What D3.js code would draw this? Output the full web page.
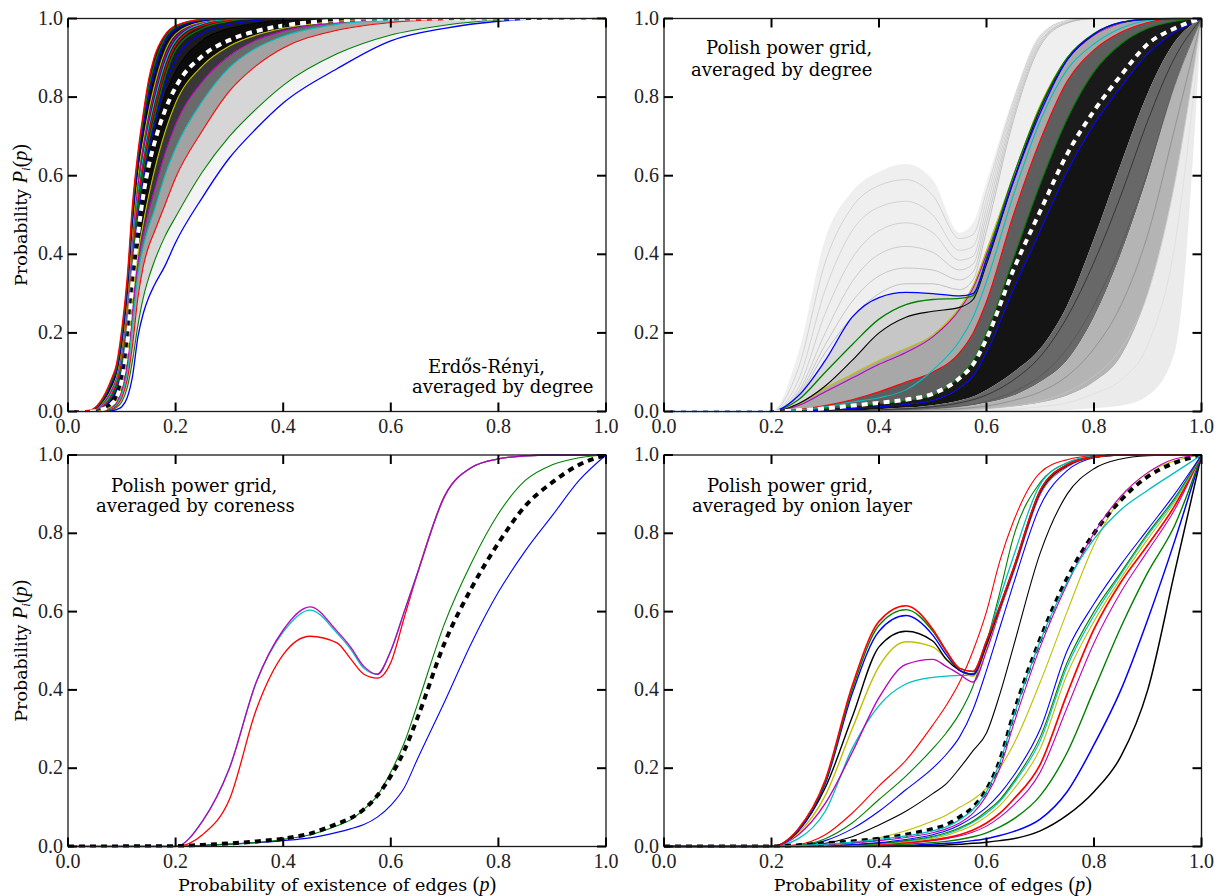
<!DOCTYPE html>
<html>
<head>
<meta charset="utf-8">
<script src="https://cdn.jsdelivr.net/npm/d3@7"></script>
<style>
  html, body { margin: 0; padding: 0; background: #fff; }
  svg { display: block; }
</style>
</head>
<body>
<svg id="fig" width="1222" height="896"></svg>
<script>
// ------------------------------------------------------------------
// Axis ticks shared by all four panels
// ------------------------------------------------------------------
const TICKS = [0, 0.2, 0.4, 0.6, 0.8, 1.0];
const TICK_LABELS = ["0.0", "0.2", "0.4", "0.6", "0.8", "1.0"];

// ------------------------------------------------------------------
// Panel 1: Erdős-Rényi, averaged by degree (k = 1 ... 17)
// ------------------------------------------------------------------
const ER_P = [0, .04, .06, .08, .09, .10, .11, .12, .13, .14, .15, .16, .18, .20, .25, .30, .35, .40, .50, .60, .70, .80, .90, 1.0];
const ER_K1  = [0, 0, 0, .002, .005, .012, .035, .09, .19, .25, .29, .32, .37, .43, .545, .645, .72, .785, .872, .943, .975, .993, .999, 1];
const ER_K2  = [0, 0, .001, .004, .01, .025, .06, .13, .22, .29, .34, .38, .445, .495, .61, .70, .77, .83, .91, .958, .983, .996, 1, 1];
const ER_K3  = [0, 0, .002, .006, .014, .035, .08, .17, .29, .37, .42, .455, .525, .595, .715, .815, .88, .925, .97, .99, .997, 1, 1, 1];
const ER_K4  = [0, 0, .002, .008, .018, .045, .10, .22, .35, .42, .47, .51, .60, .67, .79, .875, .925, .955, .985, .996, 1, 1, 1, 1];
const ER_K5  = [0, 0, .002, .01, .022, .055, .12, .26, .38, .45, .51, .56, .655, .73, .84, .905, .945, .968, .99, 1, 1, 1, 1, 1];
const ER_K6  = [0, 0, .003, .012, .026, .065, .14, .29, .40, .48, .55, .61, .71, .785, .88, .93, .958, .975, .993, 1, 1, 1, 1, 1];
const ER_K7  = [0, .001, .006, .028, .05, .10, .195, .35, .475, .57, .645, .705, .805, .865, .945, .975, .988, .996, 1, 1, 1, 1, 1, 1];
const ER_K8  = [0, .001, .007, .032, .056, .11, .21, .37, .495, .59, .665, .725, .83, .895, .962, .985, .995, 1, 1, 1, 1, 1, 1, 1];
const ER_K9  = [0, .001, .008, .036, .063, .12, .225, .39, .515, .61, .685, .745, .85, .92, .975, .993, 1, 1, 1, 1, 1, 1, 1, 1];
const ER_K10 = [0, .002, .01, .042, .072, .135, .24, .41, .54, .63, .705, .765, .868, .933, .982, .996, 1, 1, 1, 1, 1, 1, 1, 1];
const ER_K11 = [0, .002, .012, .046, .08, .145, .255, .43, .56, .65, .725, .785, .885, .943, .987, .998, 1, 1, 1, 1, 1, 1, 1, 1];
const ER_K12 = [0, .002, .014, .052, .086, .155, .27, .445, .58, .67, .745, .805, .90, .952, .99, 1, 1, 1, 1, 1, 1, 1, 1, 1];
const ER_K13 = [0, .002, .016, .057, .092, .165, .285, .465, .60, .69, .765, .825, .915, .96, .992, 1, 1, 1, 1, 1, 1, 1, 1, 1];
const ER_K14 = [0, .002, .018, .062, .098, .175, .30, .485, .62, .71, .785, .845, .93, .967, .994, 1, 1, 1, 1, 1, 1, 1, 1, 1];
const ER_K15 = [0, .002, .02, .068, .104, .185, .315, .50, .635, .725, .805, .86, .94, .972, .995, 1, 1, 1, 1, 1, 1, 1, 1, 1];
const ER_K16 = [0, .003, .022, .074, .11, .195, .33, .515, .65, .745, .825, .88, .95, .978, .997, 1, 1, 1, 1, 1, 1, 1, 1, 1];
const ER_K17 = [0, .003, .025, .08, .12, .21, .34, .53, .66, .76, .845, .90, .958, .982, .998, 1, 1, 1, 1, 1, 1, 1, 1, 1];
const ER_MEAN = [0, 0, .004, .018, .035, .08, .17, .33, .45, .55, .625, .68, .765, .825, .905, .945, .968, .982, .995, 1, 1, 1, 1, 1];

// ------------------------------------------------------------------
// Panel 2: Polish power grid, averaged by degree
// ------------------------------------------------------------------
const PG_P = [0, .15, .2, .25, .3, .35, .4, .45, .5, .55, .575, .6, .65, .7, .75, .8, .85, .9, .95, 1];
const PG_HUMP_BLUE  = [0, 0, 0, .04, .13, .24, .29, .303, .30, .294, .30, .385, .585, .76, .895, .96, .99, .998, 1, 1];
const PG_HUMP_GREEN = [0, 0, 0, .03, .10, .17, .235, .272, .285, .288, .295, .39, .60, .775, .90, .962, .99, .998, 1, 1];
const PG_HUMP_BLACK = [0, 0, 0, .02, .065, .13, .2, .24, .255, .265, .285, .375, .585, .77, .895, .96, .99, .998, 1, 1];
const PG_YELLOW  = [0, 0, 0, .02, .06, .095, .13, .16, .195, .265, .32, .41, .6, .78, .9, .96, .99, 1, 1, 1];
const PG_MAGENTA = [0, 0, 0, .015, .05, .085, .12, .15, .19, .26, .315, .40, .59, .77, .895, .958, .988, 1, 1, 1];
const PG_CYAN    = [0, 0, 0, .004, .012, .024, .035, .055, .105, .18, .24, .33, .55, .74, .87, .935, .975, .995, 1, 1];
const PG_RED     = [0, 0, 0, .005, .015, .03, .05, .075, .1, .15, .2, .28, .5, .69, .84, .92, .965, .99, 1, 1];
const PG_GREEN2  = [0, 0, 0, .003, .008, .014, .02, .028, .042, .09, .13, .20, .39, .58, .745, .865, .935, .975, .993, 1];
const PG_BLUE2   = [0, 0, 0, .001, .004, .008, .012, .018, .028, .06, .09, .15, .31, .46, .61, .73, .825, .91, .965, 1];
const PG_MEAN    = [0, 0, 0, .003, .008, .015, .022, .03, .045, .085, .12, .185, .36, .51, .655, .765, .855, .935, .975, 1];
// envelopes of the individual-node curves drawn behind the averages
const PG_NODE_TOP  = [0, 0, 0, .15, .44, .56, .61, .63, .59, .455, .48, .585, .80, .96, .995, 1, 1, 1, 1, 1];
const PG_NODE_MID1 = [0, 0, 0, 0, .001, .003, .006, .01, .016, .028, .038, .055, .1, .16, .27, .44, .63, .81, .94, 1];
const PG_NODE_MID2 = [0, 0, 0, 0, 0, .001, .002, .004, .007, .012, .016, .022, .04, .075, .13, .24, .4, .6, .83, 1];
const PG_NODE_MID3 = [0, 0, 0, 0, 0, 0, 0, .001, .002, .003, .004, .006, .012, .022, .04, .075, .14, .3, .58, 1];
const PG_NODE_LOW  = [0, 0, 0, 0, 0, 0, 0, 0, 0, 0, 0, 0, .001, .002, .004, .008, .015, .04, .15, 1];
// a few individual-node curves: double-hump family
const PG_NODE_H1 = [0, 0, 0, .11, .38, .52, .575, .59, .55, .44, .45, .56, .79, .955, .995, 1, 1, 1, 1, 1];
const PG_NODE_H2 = [0, 0, 0, .08, .31, .46, .52, .535, .5, .41, .42, .54, .78, .95, .993, 1, 1, 1, 1, 1];
const PG_NODE_H3 = [0, 0, 0, .06, .25, .39, .46, .48, .455, .385, .395, .52, .77, .945, .99, 1, 1, 1, 1, 1];
const PG_NODE_H4 = [0, 0, 0, .05, .2, .33, .4, .42, .405, .36, .375, .5, .76, .94, .99, 1, 1, 1, 1, 1];
const PG_NODE_H5 = [0, 0, 0, .045, .17, .28, .345, .365, .36, .335, .355, .48, .75, .935, .99, 1, 1, 1, 1, 1];
const PG_NODE_H6 = [0, 0, 0, .04, .15, .24, .3, .325, .325, .31, .335, .46, .74, .93, .988, 1, 1, 1, 1, 1];
// a few individual-node curves: late-connecting fan
const PG_NODE_F1 = [0, 0, 0, 0, .001, .002, .004, .007, .012, .022, .03, .042, .08, .14, .24, .38, .55, .74, .9, 1];
const PG_NODE_F2 = [0, 0, 0, 0, 0, .001, .002, .004, .007, .013, .018, .026, .05, .09, .16, .27, .42, .61, .83, 1];
const PG_NODE_F3 = [0, 0, 0, 0, 0, 0, .001, .002, .004, .007, .01, .014, .028, .05, .09, .16, .27, .45, .72, 1];
const PG_NODE_F4 = [0, 0, 0, 0, 0, 0, 0, .001, .002, .003, .005, .007, .014, .026, .05, .09, .16, .3, .58, 1];
const PG_NODE_F5 = [0, 0, 0, 0, 0, 0, 0, 0, .001, .001, .002, .003, .006, .012, .022, .045, .08, .17, .42, 1];

// ------------------------------------------------------------------
// Panel 3: Polish power grid, averaged by coreness
// ------------------------------------------------------------------
const CO_P = [0, .2, .25, .3, .35, .4, .45, .5, .525, .55, .575, .6, .625, .65, .7, .75, .8, .85, .9, .95, 1];
const CO_BLUE    = [0, 0, .003, .006, .01, .015, .022, .036, .045, .056, .075, .105, .15, .225, .37, .52, .65, .755, .845, .935, 1];
const CO_GREEN   = [0, 0, .003, .006, .01, .018, .03, .053, .068, .095, .13, .19, .265, .365, .57, .725, .85, .935, .975, .993, 1];
const CO_RED     = [0, 0, .03, .12, .35, .49, .537, .52, .48, .44, .43, .47, .585, .70, .895, .968, .99, .998, 1, 1, 1];
const CO_CYAN    = [0, 0, .065, .2, .42, .548, .604, .545, .505, .455, .44, .50, .60, .70, .895, .968, .99, .998, 1, 1, 1];
const CO_MAGENTA = [0, 0, .065, .2, .42, .553, .612, .55, .51, .46, .44, .50, .60, .70, .895, .968, .99, .998, 1, 1, 1];
const CO_MEAN    = [0, .001, .004, .008, .013, .02, .033, .058, .072, .095, .13, .18, .245, .33, .52, .66, .775, .87, .93, .975, 1];

// ------------------------------------------------------------------
// Panel 4: Polish power grid, averaged by onion layer
// ------------------------------------------------------------------
const ON_P = [0, .2, .25, .3, .35, .4, .45, .5, .525, .55, .575, .6, .625, .65, .7, .75, .8, .85, .9, .95, 1];
// outer layers: double hump
const ON_H_RED     = [0, 0, .045, .17, .41, .575, .615, .555, .5, .455, .447, .525, .615, .71, .91, .975, .995, 1, 1, 1, 1];
const ON_H_GREEN   = [0, 0, .045, .165, .40, .565, .605, .55, .498, .455, .447, .525, .615, .71, .91, .975, .995, 1, 1, 1, 1];
const ON_H_BLUE    = [0, 0, .04, .16, .39, .55, .59, .54, .49, .45, .44, .52, .612, .708, .908, .975, .995, 1, 1, 1, 1];
const ON_H_BLACK   = [0, 0, .04, .15, .33, .51, .55, .525, .478, .45, .44, .515, .61, .705, .905, .973, .995, 1, 1, 1, 1];
const ON_H_YELLOW  = [0, 0, .035, .13, .30, .46, .523, .51, .48, .45, .435, .51, .607, .703, .903, .972, .995, 1, 1, 1, 1];
const ON_H_MAGENTA = [0, 0, .03, .11, .24, .38, .465, .478, .46, .44, .42, .50, .603, .70, .90, .97, .995, 1, 1, 1, 1];
const ON_H_CYAN    = [0, 0, .02, .09, .25, .36, .415, .432, .435, .437, .437, .52, .635, .74, .925, .98, .997, 1, 1, 1, 1];
// intermediate layers
const ON_M_RED    = [0, 0, .005, .03, .085, .155, .22, .31, .36, .42, .5, .6, .73, .83, .955, .988, .998, 1, 1, 1, 1];
const ON_M_GREEN  = [0, 0, .003, .02, .06, .12, .18, .25, .29, .34, .41, .52, .65, .79, .93, .98, .997, 1, 1, 1, 1];
const ON_M_BLUE   = [0, 0, .002, .015, .045, .09, .145, .2, .235, .28, .35, .45, .56, .67, .87, .96, .993, 1, 1, 1, 1];
const ON_M_BLACK  = [0, 0, 0, .008, .025, .055, .09, .135, .16, .2, .245, .29, .39, .51, .75, .9, .965, .99, .998, 1, 1];
const ON_M_YELLOW = [0, 0, 0, .003, .01, .022, .04, .065, .08, .1, .12, .15, .2, .26, .42, .6, .77, .89, .955, .985, 1];
// layers close to the mean
const ON_MEAN      = [0, 0, .003, .008, .013, .02, .03, .045, .055, .075, .1, .145, .22, .337, .53, .685, .8, .885, .945, .98, 1];
const ON_C_CYAN    = [0, 0, .002, .006, .011, .018, .027, .04, .05, .068, .095, .14, .215, .33, .525, .675, .785, .86, .91, .955, 1];
const ON_C_MAGENTA = [0, 0, .002, .005, .009, .015, .023, .035, .045, .06, .085, .13, .2, .31, .51, .67, .8, .895, .955, .99, 1];
// inner layers
const ON_L_BLUE    = [0, 0, 0, .002, .005, .01, .018, .03, .04, .055, .075, .1, .135, .18, .3, .5, .62, .72, .81, .9, 1];
const ON_L_GREEN   = [0, 0, 0, .002, .004, .008, .015, .026, .035, .048, .065, .09, .12, .165, .28, .47, .6, .7, .8, .89, 1];
const ON_L_CYAN    = [0, 0, 0, .001, .004, .008, .014, .024, .032, .045, .062, .085, .115, .16, .27, .46, .59, .695, .795, .885, 1];
const ON_L_YELLOW  = [0, 0, 0, .001, .003, .007, .012, .021, .028, .04, .055, .077, .105, .145, .25, .44, .575, .685, .785, .88, 1];
const ON_L_RED     = [0, 0, 0, .001, .003, .006, .01, .017, .022, .03, .042, .06, .085, .12, .21, .39, .555, .675, .77, .87, 1];
const ON_L_MAGENTA = [0, 0, 0, .001, .002, .005, .009, .015, .02, .027, .037, .052, .075, .105, .19, .355, .52, .65, .755, .86, 1];
const ON_L_GREEN2  = [0, 0, 0, 0, .001, .003, .006, .01, .013, .018, .025, .035, .05, .07, .13, .24, .4, .56, .7, .82, 1];
const ON_L_BLUE2   = [0, 0, 0, 0, 0, .001, .003, .006, .008, .011, .015, .02, .028, .038, .07, .14, .26, .4, .58, .78, 1];
const ON_L_BLACK   = [0, 0, 0, 0, 0, 0, .001, .003, .004, .006, .008, .011, .015, .02, .04, .08, .14, .23, .4, .7, 1];

// ------------------------------------------------------------------
// Styling
// ------------------------------------------------------------------
const C = { b: "#0000ff", g: "#008000", r: "#ff0000", c: "#00bfbf", m: "#bf00bf", y: "#bfbf00", k: "#000000" };
const SERIF = "'DejaVu Serif', serif";
const MATH = "'Liberation Serif', 'Times New Roman', serif";

const svg = d3.select("#fig");
svg.append("rect").attr("width", 1222).attr("height", 896).attr("fill", "#fff");

const panels = [
  {
    box: { left: 68, right: 606, top: 18.5, bottom: 411.5 },
    grid: ER_P,
    bands: [
      [ER_K17, ER_K7, "#1c1c1c"], [ER_K7, ER_K6, "#0c0c0c"], [ER_K6, ER_K5, "#383838"],
      [ER_K5, ER_K4, "#6a6a6a"], [ER_K4, ER_K3, "#a2a2a2"], [ER_K3, ER_K2, "#d6d6d6"],
      [ER_K2, ER_K1, "#f4f4f4"]
    ],
    nodes: [],
    lines: [
      [ER_K1, "b", 1.3], [ER_K2, "g"], [ER_K3, "r"], [ER_K4, "c"], [ER_K5, "m"], [ER_K6, "y"],
      [ER_K7, "k"], [ER_K8, "b"], [ER_K9, "g"], [ER_K10, "r"], [ER_K11, "c"], [ER_K12, "m"],
      [ER_K13, "y"], [ER_K14, "k"], [ER_K15, "b"], [ER_K16, "g"], [ER_K17, "r", 1.3]
    ],
    mean: ER_MEAN, meanColor: "#ffffff",
    notes: [["Erdős-Rényi,", 428, 372.5], ["averaged by degree", 412, 393]],
    yLabel: true, xLabel: false
  },
  {
    box: { left: 664, right: 1201.5, top: 18.5, bottom: 411.5 },
    grid: PG_P,
    bands: [
      [PG_NODE_TOP, PG_HUMP_BLUE, "#efefef"], [PG_HUMP_BLUE, PG_HUMP_BLACK, "#d9d9d9"],
      [PG_HUMP_BLACK, PG_YELLOW, "#c6c6c6"], [PG_YELLOW, PG_RED, "#a8a8a8"],
      [PG_RED, PG_GREEN2, "#5e5e5e"], [PG_GREEN2, PG_BLUE2, "#1a1a1a"],
      [PG_BLUE2, PG_NODE_MID1, "#141414"], [PG_NODE_MID1, PG_NODE_MID2, "#686868"],
      [PG_NODE_MID2, PG_NODE_MID3, "#b4b4b4"], [PG_NODE_MID3, PG_NODE_LOW, "#ebebeb"]
    ],
    nodes: [
      [PG_NODE_H1, "#d2d2d2", 1], [PG_NODE_H2, "#d2d2d2", 1], [PG_NODE_H3, "#cfcfcf", 1],
      [PG_NODE_H4, "#cbcbcb", 1], [PG_NODE_H5, "#c6c6c6", 1], [PG_NODE_H6, "#c0c0c0", 1],
      [PG_NODE_F1, "#2a2a2a", 0.8], [PG_NODE_F2, "#555555", 0.8], [PG_NODE_F3, "#8a8a8a", 0.8],
      [PG_NODE_F4, "#c4c4c4", 0.8], [PG_NODE_F5, "#dddddd", 0.8]
    ],
    lines: [
      [PG_BLUE2, "b"], [PG_GREEN2, "g"], [PG_RED, "r"], [PG_CYAN, "c"], [PG_MAGENTA, "m"],
      [PG_YELLOW, "y"], [PG_HUMP_BLACK, "k"], [PG_HUMP_GREEN, "g", 1.3], [PG_HUMP_BLUE, "b", 1.3]
    ],
    mean: PG_MEAN, meanColor: "#ffffff",
    notes: [["Polish power grid,", 706, 54], ["averaged by degree", 691, 76]],
    yLabel: false, xLabel: false
  },
  {
    box: { left: 68, right: 606, top: 455, bottom: 846.5 },
    grid: CO_P,
    bands: [],
    nodes: [],
    lines: [
      [CO_BLUE, "b"], [CO_GREEN, "g"], [CO_RED, "r", 1.3], [CO_CYAN, "c", 1.3], [CO_MAGENTA, "m", 1.3]
    ],
    mean: CO_MEAN, meanColor: "#000000",
    notes: [["Polish power grid,", 111, 491.5], ["averaged by coreness", 96, 511.5]],
    yLabel: true, xLabel: true
  },
  {
    box: { left: 664, right: 1201.5, top: 455, bottom: 846.5 },
    grid: ON_P,
    bands: [],
    nodes: [],
    lines: [
      [ON_L_BLACK, "k", 1.5], [ON_L_BLUE2, "b", 1.5], [ON_L_GREEN2, "g", 1.4], [ON_L_MAGENTA, "m"],
      [ON_L_RED, "r", 1.7], [ON_L_YELLOW, "y"], [ON_L_CYAN, "c"], [ON_L_GREEN, "g"], [ON_L_BLUE, "b"],
      [ON_M_YELLOW, "y"], [ON_M_BLACK, "k"], [ON_M_BLUE, "b"], [ON_M_GREEN, "g"], [ON_M_RED, "r"],
      [ON_H_CYAN, "c", 1.3], [ON_H_MAGENTA, "m", 1.4], [ON_H_YELLOW, "y", 1.4], [ON_H_BLACK, "k", 1.4],
      [ON_H_BLUE, "b", 1.4], [ON_H_GREEN, "g", 1.4], [ON_H_RED, "r", 1.6]
    ],
    mean: ON_MEAN, meanColor: "#000000",
    after: [[ON_C_MAGENTA, "m"], [ON_C_CYAN, "c", 1.3]],
    notes: [["Polish power grid,", 707, 491.5], ["averaged by onion layer", 692, 511.5]],
    yLabel: false, xLabel: true
  }
];

panels.forEach((pn, idx) => {
  const b = pn.box;
  const x = d3.scaleLinear().domain([0, 1]).range([b.left, b.right]);
  const y = d3.scaleLinear().domain([0, 1]).range([b.bottom, b.top]);
  const g = svg.append("g");

  const clipId = "clip" + idx;
  svg.append("clipPath").attr("id", clipId).append("rect")
    .attr("x", b.left).attr("y", b.top - 1)
    .attr("width", b.right - b.left).attr("height", b.bottom - b.top + 2);
  const plot = g.append("g").attr("clip-path", `url(#${clipId})`);

  const P = pn.grid;
  const lineGen = vals => d3.line()
    .x((d, i) => x(P[i])).y(d => y(d))
    .curve(d3.curveMonotoneX)(vals);
  const stroke = (vals, col, w) => plot.append("path").attr("d", lineGen(vals))
    .attr("fill", "none").attr("stroke", col).attr("stroke-width", w);

  // density of the individual-node curves, as filled bands between curves
  pn.bands.forEach(([hi, lo, col]) => {
    const area = d3.area()
      .x((d, i) => x(P[i]))
      .y0((d, i) => y(lo[i]))
      .y1((d, i) => y(hi[i]))
      .curve(d3.curveMonotoneX);
    plot.append("path").attr("d", area(hi)).attr("fill", col).attr("stroke", "none");
  });

  pn.nodes.forEach(([vals, col, w]) => stroke(vals, col, w));

  pn.lines.forEach(([vals, c, w]) => stroke(vals, C[c], w || 1.1));

  // mean curve, thick dashed
  plot.append("path").attr("d", lineGen(pn.mean))
    .attr("fill", "none").attr("stroke", pn.meanColor)
    .attr("stroke-width", 4).attr("stroke-dasharray", "6,5");

  (pn.after || []).forEach(([vals, c, w]) => stroke(vals, C[c], w || 1.1));

  // frame
  g.append("rect").attr("x", b.left).attr("y", b.top)
    .attr("width", b.right - b.left).attr("height", b.bottom - b.top)
    .attr("fill", "none").attr("stroke", "#1a1a1a").attr("stroke-width", 1.3);

  // inward ticks on all four sides
  const TL = 9;
  TICKS.forEach(t => {
    const tick = (x1, y1, x2, y2) => g.append("line")
      .attr("x1", x1).attr("y1", y1).attr("x2", x2).attr("y2", y2)
      .attr("stroke", "#000").attr("stroke-width", 2);
    tick(x(t), b.bottom, x(t), b.bottom - TL);
    tick(x(t), b.top, x(t), b.top + TL);
    tick(b.left, y(t), b.left + TL, y(t));
    tick(b.right, y(t), b.right - TL, y(t));
  });

  // tick labels
  TICKS.forEach((t, i) => {
    g.append("text").attr("x", x(t)).attr("y", b.bottom + 21)
      .attr("text-anchor", "middle").attr("font-family", MATH).attr("font-size", 20)
      .attr("fill", "#222").text(TICK_LABELS[i]);
    g.append("text").attr("x", b.left - 5).attr("y", y(t) + 6)
      .attr("text-anchor", "end").attr("font-family", MATH).attr("font-size", 20)
      .attr("fill", "#222").text(TICK_LABELS[i]);
  });

  // panel annotation
  pn.notes.forEach(([txt, tx, ty]) => {
    g.append("text").attr("x", tx).attr("y", ty)
      .attr("font-family", SERIF).attr("font-size", 18).attr("fill", "#000").text(txt);
  });

  // axis titles
  if (pn.yLabel) {
    const cy = (b.top + b.bottom) / 2;
    const t = g.append("text")
      .attr("transform", `translate(27,${cy}) rotate(-90)`)
      .attr("text-anchor", "middle").attr("font-family", SERIF).attr("font-size", 17.5).attr("fill", "#000");
    t.append("tspan").text("Probability ");
    t.append("tspan").attr("font-family", MATH).attr("font-style", "italic").attr("font-size", 20).text("P");
    t.append("tspan").attr("font-family", MATH).attr("font-style", "italic").attr("font-size", 13).attr("dy", 3).text("i");
    t.append("tspan").attr("font-family", MATH).attr("font-size", 20).attr("dy", -3).text("(");
    t.append("tspan").attr("font-family", MATH).attr("font-style", "italic").attr("font-size", 20).text("p");
    t.append("tspan").attr("font-family", MATH).attr("font-size", 20).text(")");
  }
  if (pn.xLabel) {
    const cx = (b.left + b.right) / 2;
    const t = g.append("text").attr("x", cx).attr("y", 891)
      .attr("text-anchor", "middle").attr("font-family", SERIF).attr("font-size", 17.5).attr("fill", "#000");
    t.append("tspan").text("Probability of existence of edges ");
    t.append("tspan").attr("font-family", MATH).attr("font-size", 20).text("(");
    t.append("tspan").attr("font-family", MATH).attr("font-style", "italic").attr("font-size", 20).text("p");
    t.append("tspan").attr("font-family", MATH).attr("font-size", 20).text(")");
  }
});
</script>
</body>
</html>
